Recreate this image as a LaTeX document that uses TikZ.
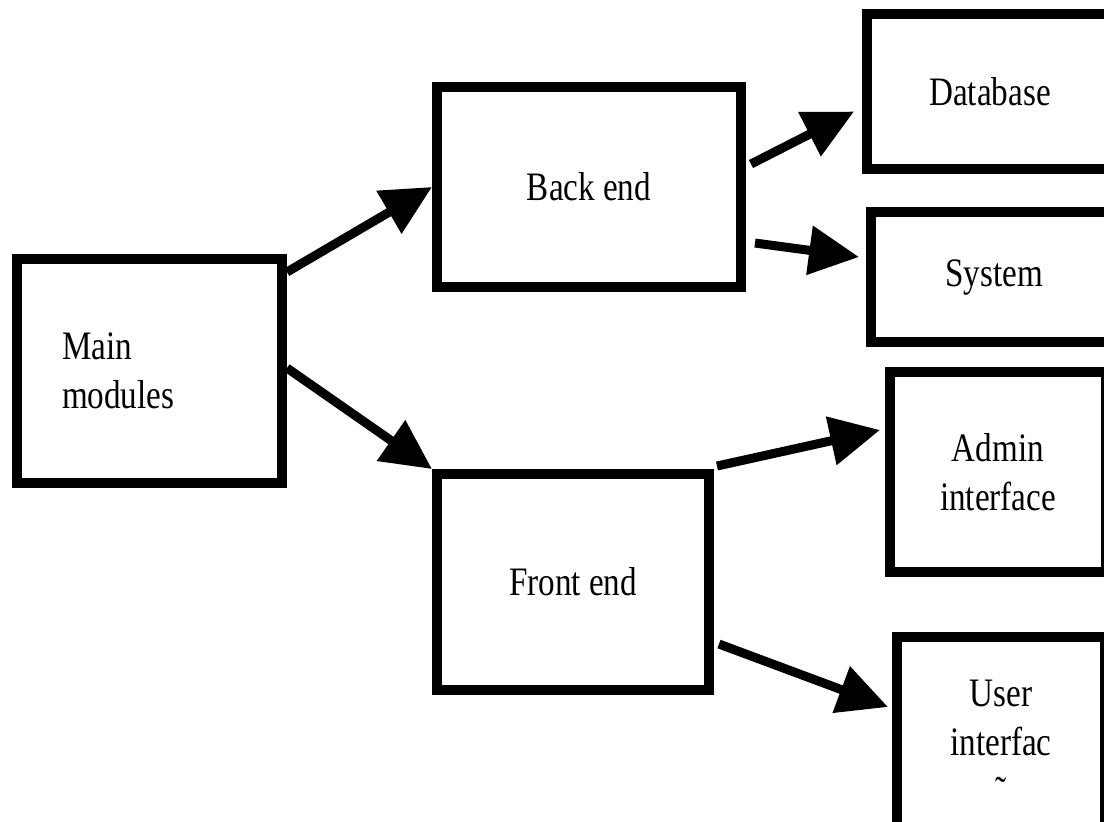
\documentclass[tikz,border=0pt]{standalone}
\usepackage{fontspec}
\setmainfont{Liberation Serif}[FakeStretch=0.82]
\usetikzlibrary{arrows.meta,calc}
\tikzset{
  box/.style={draw=black, line width=0.2cm, rectangle, inner sep=0pt, align=center,
    font=\fontsize{23}{28}\selectfont},
  conn/.style={line width=0.18cm, -{Triangle[length=1.0cm,width=0.95cm]}}
}
\begin{document}
\begin{tikzpicture}[x=0.02cm,y=-0.02cm]
\useasboundingbox (0,0) rectangle (1104,821);
\fill[white] (0,0) rectangle (1104,821);
\clip (0,0) rectangle (1104,821);
\node[box, minimum width=5.3cm, minimum height=4.48cm, text width=3.5cm, align=left] (main) at (149.5,371) {Main\\modules};
\node[box, minimum width=6.08cm, minimum height=4.0cm] (back) at (589,187) {Back end};
\node[box, minimum width=5.44cm, minimum height=4.32cm] (front) at (573,582) {Front end};
\node[box, minimum width=4.92cm, minimum height=3.1cm] (database) at (990,91.5) {Database};
\node[box, minimum width=4.92cm, minimum height=2.6cm] (system) at (994,277) {\raisebox{-0.2cm}{System}};
\node[box, minimum width=4.32cm, minimum height=4.0cm] (admin) at (998,472) {Admin\\interface};
\node[box, minimum width=4.16cm, minimum height=4.2cm] (user) at (1001,742) {User\\interfac\\\char"02DC};
\draw[conn] ($(main.north east)+(0,18)$) -- (back.west);
\draw[conn] ($(main.north east)+(0,114)$) -- (front.north west);
\draw[conn] ($(back.north east)+(5,82)$) -- ($(database.west)+(-8,20)$);
\draw[conn] ($(back.north east)+(9,161)$) -- ($(system.west)+(-7,-20)$);
\draw[conn] ($(front.north east)+(3,-3)$) -- ($(admin.west)+(-5,-42)$);
\draw[conn] ($(front.north east)+(5,175)$) -- ($(user.west)+(-4,-35)$);
\end{tikzpicture}
\end{document}
